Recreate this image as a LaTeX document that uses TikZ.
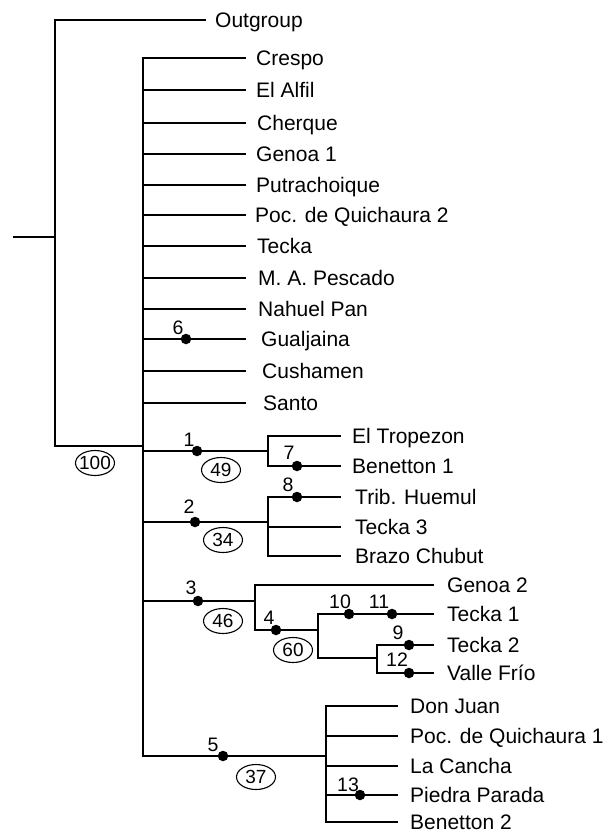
\documentclass[tikz,border=0pt]{standalone}
\usepackage{fontspec}
\setmainfont{Liberation Sans}
\usetikzlibrary{shapes.geometric}
\tikzset{
  tree/.style={line width=2pt, line cap=rect},
  dotn/.style={circle, fill=black, inner sep=0pt, minimum size=10.5pt},
  num/.style={inner sep=0pt, font=\fontsize{19.5}{21}\selectfont},
  bs/.style={ellipse, draw, line width=1.1pt, minimum width=39pt, minimum height=25pt, inner sep=0pt},
  bt/.style={inner sep=0pt, font=\fontsize{19}{21}\selectfont},
  lab/.style={anchor=base west, inner sep=0pt, font=\fontsize{21}{24}\selectfont}
}
\newcommand\mkleaf[5]{\coordinate (#1) at (#2,#3); \node[lab, yshift=-7.5pt] (t#1) at (#4,#3) {#5};}
\newcommand\mkboot[3]{\node[bs] (b#1) at (#2) {}; \node[bt] (bt#1) at (b#1) {#3};}
\begin{document}
\begin{tikzpicture}[x=1pt,y=-1pt]
\useasboundingbox (0,0) rectangle (611,833);
% junctions
\coordinate (root) at (14,237);
\coordinate (A) at (55,237);
\coordinate (B) at (143,446);
\coordinate (n1) at (268,451);
\coordinate (n2) at (268,522);
\coordinate (n3) at (255,601);
\coordinate (n4) at (318,630);
\coordinate (n12) at (377,658);
\coordinate (n5) at (326,756);
% leaves
\mkleaf{og}{205}{20}{215}{Outgroup}
\mkleaf{p1}{245}{58}{256}{Crespo}
\mkleaf{p2}{245}{90}{256}{El Alfil}
\mkleaf{p3}{245}{123}{257}{Cherque}
\mkleaf{p4}{245}{154}{256}{Genoa 1}
\mkleaf{p5}{245}{185}{256}{Putrachoique}
\mkleaf{p6}{245}{215}{255}{Poc. de Quichaura 2}
\mkleaf{p7}{245}{246}{257}{Tecka}
\mkleaf{p8}{245}{278}{258}{M. A. Pescado}
\mkleaf{p9}{245}{309}{258}{Nahuel Pan}
\mkleaf{p10}{245}{339}{261}{Gualjaina}
\mkleaf{p11}{245}{371}{262}{Cushamen}
\mkleaf{p12}{245}{403}{263}{Santo}
\mkleaf{c1a}{340}{436}{352}{El Tropezon}
\mkleaf{c1b}{340}{466}{352}{Benetton 1}
\mkleaf{c2a}{340}{497}{355}{Trib. Huemul}
\mkleaf{c2b}{340}{527}{355}{Tecka 3}
\mkleaf{c2c}{340}{556}{355}{Brazo Chubut}
\mkleaf{c3a}{433}{585}{447}{Genoa 2}
\mkleaf{c3b}{433}{614}{447}{Tecka 1}
\mkleaf{c3c}{433}{645}{447}{Tecka 2}
\mkleaf{c3d}{433}{673}{447}{Valle Frío}
\mkleaf{c5a}{397}{706}{410}{Don Juan}
\mkleaf{c5b}{397}{736}{410}{Poc. de Quichaura 1}
\mkleaf{c5c}{397}{766}{410}{La Cancha}
\mkleaf{c5d}{397}{795}{410}{Piedra Parada}
\mkleaf{c5e}{397}{822}{410}{Benetton 2}
% branches
\draw[tree] (root) -- (A);
\draw[tree] (og) -| (A) |- (B);
\foreach \l in {p1,p2,p3,p4,p5,p6,p7,p8,p9,p10,p11,p12}{\draw[tree] (B) |- (\l);}
\draw[tree] (B) |- (n1);
\draw[tree] (B) |- (n2);
\draw[tree] (B) |- (n3);
\draw[tree] (B) |- (n5);
\draw[tree] (n1) |- (c1a); \draw[tree] (n1) |- (c1b);
\draw[tree] (n2) |- (c2a); \draw[tree] (n2) |- (c2b); \draw[tree] (n2) |- (c2c);
\draw[tree] (n3) |- (c3a); \draw[tree] (n3) |- (n4);
\draw[tree] (n4) |- (c3b); \draw[tree] (n4) |- (n12);
\draw[tree] (n12) |- (c3c); \draw[tree] (n12) |- (c3d);
\foreach \l in {c5a,c5b,c5c,c5d,c5e}{\draw[tree] (n5) |- (\l);}
% character dots
\node[dotn] (d6) at (186,339) {};
\node[dotn] (d1) at (197,451) {};
\node[dotn] (d7) at (297,466) {};
\node[dotn] (d8) at (297,497) {};
\node[dotn] (d2) at (195,522) {};
\node[dotn] (d3) at (198,601) {};
\node[dotn] (d4) at (276,630) {};
\node[dotn] (d10) at (349,614) {};
\node[dotn] (d11) at (392,614) {};
\node[dotn] (d9) at (409,645) {};
\node[dotn] (d12) at (409,673) {};
\node[dotn] (d5) at (223,756) {};
\node[dotn] (d13) at (360,795) {};
% numbers
\node[num] (l6) at (178,328) {6};
\node[num] (l1) at (189,440) {1};
\node[num] (l7) at (289,453) {7};
\node[num] (l8) at (288,485) {8};
\node[num] (l2) at (189,507) {2};
\node[num] (l3) at (191,588) {3};
\node[num] (l4) at (269,618) {4};
\node[num] (l10) at (340,602) {10};
\node[num] (l11) at (379,602) {11};
\node[num] (l9) at (398,633) {9};
\node[num] (l12) at (397,660) {12};
\node[num] (l5) at (213,745) {5};
\node[num] (l13) at (348,785) {13};
% bootstrap
\mkboot{100}{95,463}{100}
\mkboot{49}{221,470}{49}
\mkboot{34}{223,540}{34}
\mkboot{46}{223,621}{46}
\mkboot{60}{293,650}{60}
\mkboot{37}{256,777}{37}
\end{tikzpicture}
\end{document}
